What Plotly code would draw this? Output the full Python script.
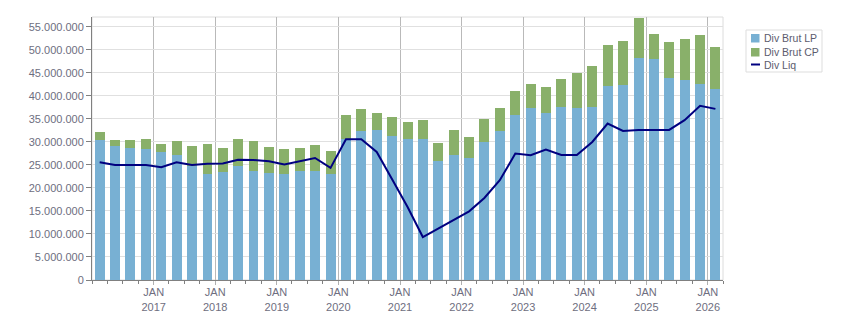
import pandas as pd
import plotly.graph_objects as go

# ---- data (values in millions) ----
quarters = pd.period_range("2016Q1", "2026Q1", freq="Q")
div_brut_lp = [30.48, 29.03, 28.66, 28.37, 27.79, 27.07, 24.75, 23.00, 23.44, 24.75,
               23.58, 23.17, 23.03, 23.61, 23.61, 23.03, 30.57, 32.31, 32.53, 31.29,
               30.57, 30.57, 25.78, 27.09, 26.44, 29.99, 32.31, 35.79, 37.32, 36.21,
               37.52, 37.30, 37.52, 42.09, 42.31, 48.19, 47.97, 43.83, 43.40, 42.53,
               41.44]
div_brut_total = [32.07, 30.33, 30.33, 30.55, 29.46, 30.12, 29.03, 29.46, 28.66, 30.55,
                  30.12, 28.83, 28.39, 28.61, 29.26, 27.96, 35.79, 37.10, 36.23, 35.36,
                  34.27, 34.70, 29.70, 32.53, 31.00, 34.92, 37.32, 41.07, 42.53, 41.87,
                  43.61, 44.92, 46.44, 51.02, 51.89, 56.89, 53.41, 51.67, 52.32, 53.19,
                  50.58]
div_liq = [25.54, 24.96, 24.96, 24.96, 24.50, 25.54, 24.96, 25.25, 25.30, 26.10,
           26.05, 25.78, 25.06, 25.78, 26.50, 24.33, 30.57, 30.57, 27.80, 21.80,
           15.85, 9.32, 11.13, 13.10, 14.90, 17.80, 21.65, 27.45, 27.09, 28.30,
           27.14, 27.14, 29.97, 33.96, 32.37, 32.58, 32.58, 32.58, 34.69, 37.81,
           37.15]
tick_years = list(range(2017, 2027))
series_names = ["Div Brut LP", "Div Brut CP", "Div Liq"]

M = 1_000_000
div_brut_cp = [t - lp for t, lp in zip(div_brut_total, div_brut_lp)]
x = [q.start_time + (q.end_time - q.start_time) / 2 for q in quarters]

C_LP = "#78b0d3"
C_CP = "#89b06a"
C_LIQ = "#000080"
TXT = "#6e6e80"
FONT = "Liberation Sans, Arial, sans-serif"

bar_w = 59 * 86400000

fig = go.Figure()
fig.add_trace(go.Bar(x=x, y=[v * M for v in div_brut_lp], name=series_names[0],
                     marker=dict(color=C_LP, line=dict(width=0)), width=bar_w, showlegend=False))
fig.add_trace(go.Bar(x=x, y=[v * M for v in div_brut_cp], name=series_names[1],
                     marker=dict(color=C_CP, line=dict(width=0)), width=bar_w, showlegend=False))
fig.add_trace(go.Scatter(x=x, y=[v * M for v in div_liq], name=series_names[2], mode="lines",
                         line=dict(color=C_LIQ, width=2), showlegend=False))

L, R, T, B = 92, 128, 17, 33
W, H = 851, 313
PW, PH = W - L - R, H - T - B


def px(xp):
    return (xp - L) / PW


def py(yp):
    return (H - B - yp) / PH


shapes = [
    dict(type="rect", xref="paper", yref="paper", x0=0, x1=1, y0=0, y1=1,
         line=dict(color="#dcdcdc", width=1), layer="below"),
    # legend box
    dict(type="rect", xref="paper", yref="paper", x0=px(746), x1=px(822), y0=py(72), y1=py(30),
         line=dict(color="#dddddd", width=1), fillcolor="white"),
    dict(type="rect", xref="paper", yref="paper", x0=px(751), x1=px(759.5), y0=py(42.5), y1=py(34),
         line=dict(width=0), fillcolor=C_LP),
    dict(type="rect", xref="paper", yref="paper", x0=px(751), x1=px(759.5), y0=py(56.5), y1=py(48),
         line=dict(width=0), fillcolor=C_CP),
    dict(type="line", xref="paper", yref="paper", x0=px(751), x1=px(760), y0=py(64.5), y1=py(64.5),
         line=dict(color=C_LIQ, width=2)),
]
annotations = []
for name, yc in zip(series_names, [38.3, 52.2, 64.7]):
    annotations.append(dict(xref="paper", yref="paper", x=px(762), y=py(yc), text=name,
                            showarrow=False, xanchor="left", yanchor="middle",
                            font=dict(family=FONT, size=10.5, color="#5c5c6e")))

fig.update_layout(
    width=W, height=H, margin=dict(l=L, r=R, t=T, b=B, autoexpand=False),
    barmode="stack", plot_bgcolor="white", paper_bgcolor="white",
    separators=",.",
    font=dict(family=FONT, size=11, color=TXT),
    shapes=shapes, annotations=annotations,
    xaxis=dict(
        type="date", range=["2016-01-01", "2026-04-01"],
        automargin=False,
        tickmode="array",
        tickvals=[f"{y}-01-01" for y in tick_years],
        ticktext=[f"JAN<br>{y}" for y in tick_years],
        ticklabelstandoff=-2,
        showgrid=True, gridcolor="#b9b9b9", gridwidth=1,
        ticks="outside", ticklen=4, tickcolor="#b0b0b0",
        showline=True, linecolor="#808080", linewidth=1,
        zeroline=False,
        tickfont=dict(family=FONT, size=11, color=TXT),
        minor=dict(tick0="2016-01-01", dtick="M3", ticks="outside", ticklen=3,
                   tickcolor="#808080", showgrid=False),
    ),
    yaxis=dict(
        range=[0, 57.1 * M], tickmode="linear", tick0=0, dtick=5 * M,
        automargin=False,
        tickformat=",.0f",
        showgrid=True, gridcolor="#e0e0e0", gridwidth=1,
        ticks="outside", ticklen=5, tickcolor="#808080",
        showline=True, linecolor="#808080", linewidth=1,
        zeroline=False,
        tickfont=dict(family=FONT, size=11, color=TXT),
    ),
)

fig.write_html("out.html")
